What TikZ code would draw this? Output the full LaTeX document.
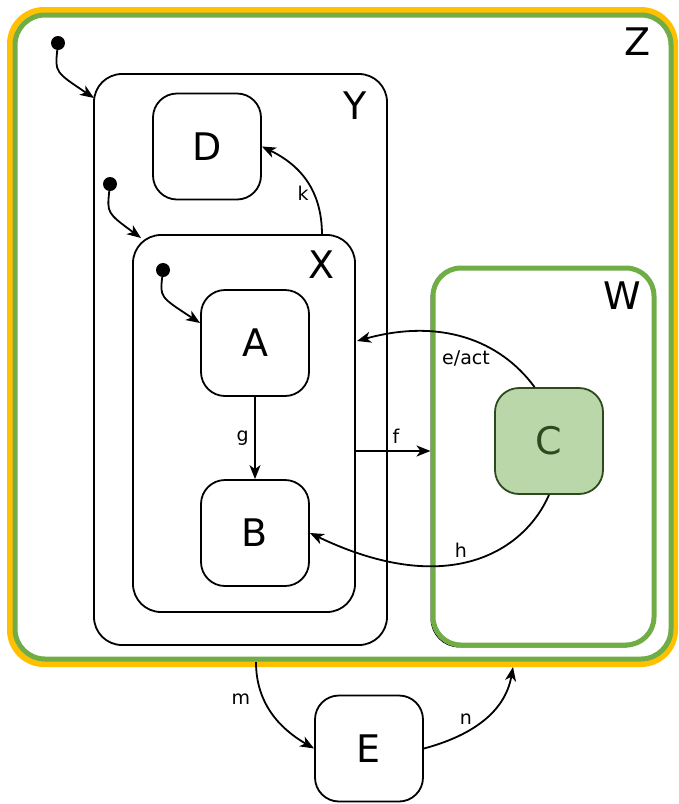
\documentclass[tikz,border=0pt]{standalone}
\usepackage{fontspec}
\setmainfont{DejaVu Sans}
\usetikzlibrary{arrows.meta}

\definecolor{zyellow}{RGB}{255,192,0}
\definecolor{zgreen}{RGB}{112,173,71}
\definecolor{cfill}{RGB}{185,215,168}
\definecolor{cdark}{RGB}{45,74,30}

\tikzset{
  state/.style={draw, line width=1.8pt, rounded corners=24pt, minimum width=108pt,
    minimum height=106pt, inner sep=0pt, font=\fontsize{38}{40}\selectfont},
  box/.style={draw, line width=1.8pt, rounded corners=28pt, inner sep=0pt},
  boxlabel/.style={font=\fontsize{38}{40}\selectfont},
  trans/.style={line width=1.8pt, -{Stealth[length=14pt,width=11pt,inset=4pt]}},
  lbl/.style={font=\fontsize{19}{20}\selectfont},
  initdot/.style={circle, fill, inner sep=0pt, minimum size=14pt},
}

\begin{document}
\begin{tikzpicture}[x=1pt,y=-1pt]
    \useasboundingbox (0,0) rectangle (679,804);

    % outer state Z
    \draw[zyellow, line width=6pt, rounded corners=34pt] (10,10) rectangle (675,664);
    \node[box, draw=zgreen, line width=5pt, rounded corners=30pt,
      minimum width=656pt, minimum height=644pt] (Z) at (343,337) {};
    \node[boxlabel] (Zlabel) at (638,42) {Z};

    % composite states
    \node[box, minimum width=293pt, minimum height=571pt] (Y) at (240.5,359.5) {};
    \node[boxlabel] (Ylabel) at (355,106) {Y};
    \node[box, minimum width=222pt, minimum height=377pt] (X) at (244,423.5) {};
    \node[boxlabel] (Xlabel) at (322,265) {X};
    \node[box, line width=0.8pt, minimum width=221pt, minimum height=377pt] (Wshadow) at (541.5,458.5) {};
    \node[box, draw=zgreen, fill=white, line width=5pt, minimum width=221pt, minimum height=377pt] (W) at (543.5,456.5) {};
    \node[boxlabel] (Wlabel) at (622,296) {W};

    % simple states
    \node[state] (D) at (207,146.5) {D};
    \node[state] (A) at (255,343) {A};
    \node[state] (B) at (255,533) {B};
    \node[state, draw=cdark, fill=cfill, text=cdark] (C) at (549,441) {C};
    \node[state] (E) at (369,748.5) {E};

    % initial states
    \node[initdot] (i1) at (58,43) {};
    \node[initdot] (i2) at (110,184) {};
    \node[initdot] (i3) at (163,270) {};
    \coordinate (yin) at (94,98);
    \coordinate (xin) at (141,238);
    \draw[trans] (i1) .. controls (55,72) .. (yin);
    \draw[trans] (i2) .. controls (107,213) .. (xin);
    \draw[trans] (i3) .. controls (160,297) .. (A.160);

    % transitions
    \coordinate (kstart) at (322,235);
    \coordinate (fstart) at (355,451);
    \coordinate (eend) at (357,341);
    \coordinate (mstart) at (256,662);
    \coordinate (nend) at (513,667);

    \draw[trans] (A) -- node[lbl, left, xshift=-2pt] {g} (B);
    \draw[trans] (kstart) .. controls (322,190) and (300,165) .. (D.east);
    \node[lbl] (klabel) at (303,193) {k};
    \draw[trans] (fstart) -- (W.west |- fstart);
    \node[lbl] (flabel) at (396,436) {f};
    \draw[trans] (C.105) .. controls (500,340) and (440,318) .. (eend);
    \node[lbl] (elabel) at (466,358) {e/act};
    \draw[trans] (C.south) .. controls (525,550) and (450,600) .. (B.east);
    \node[lbl] (hlabel) at (461,550) {h};
    \draw[trans] (mstart) to[out=-90,in=150] (E.west);
    \node[lbl] (mlabel) at (241,699) {m};
    \draw[trans] (E.east) to[out=15,in=-100] (nend);
    \node[lbl] (nlabel) at (466,719) {n};
\end{tikzpicture}
\end{document}
